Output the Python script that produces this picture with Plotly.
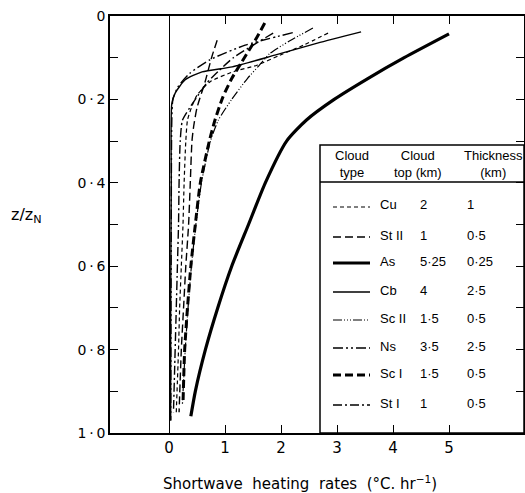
import plotly.graph_objects as go

# ---------------- data ----------------
cloud_types = ["Cu", "St II", "As", "Cb", "Sc II", "Ns", "Sc I", "St I"]
cloud_tops = ["2", "1", "5·25", "4", "1·5", "3·5", "1·5", "1"]
thicknesses = ["1", "0·5", "0·25", "2·5", "0·5", "2·5", "0·5", "0·5"]

cu_z = [0.041, 0.07, 0.094, 0.118, 0.134, 0.158, 0.19, 0.22, 0.25, 0.3, 0.4, 0.5, 0.6, 0.7, 0.8, 0.95]
cu_q = [2.84, 2.4, 1.98, 1.57, 1.14, 0.73, 0.5, 0.4, 0.33, 0.3, 0.27, 0.25, 0.22, 0.19, 0.17, 0.13]

st2_z = [0.058, 0.1, 0.16, 0.22, 0.265, 0.3, 0.4, 0.5, 0.6, 0.7, 0.8, 0.95]
st2_q = [0.86, 0.76, 0.64, 0.5, 0.44, 0.41, 0.38, 0.35, 0.3, 0.26, 0.22, 0.18]

as_z = [0.043, 0.1, 0.15, 0.2, 0.25, 0.3, 0.4, 0.5, 0.6, 0.7, 0.8, 0.9, 0.96]
as_q = [5.0, 4.2, 3.55, 2.95, 2.45, 2.1, 1.72, 1.42, 1.12, 0.87, 0.65, 0.47, 0.39]

cb_z = [0.038, 0.065, 0.094, 0.122, 0.134, 0.153, 0.185, 0.21, 0.4, 0.7, 0.97]
cb_q = [3.43, 2.65, 1.89, 1.13, 0.59, 0.29, 0.11, 0.05, 0.04, 0.03, 0.03]

sc2_z = [0.029, 0.06, 0.09, 0.12, 0.15, 0.2, 0.25, 0.3, 0.4, 0.5, 0.6, 0.7, 0.8, 0.93]
sc2_q = [2.57, 2.15, 1.8, 1.6, 1.4, 1.12, 0.88, 0.74, 0.58, 0.48, 0.4, 0.34, 0.29, 0.24]

ns_z = [0.04, 0.07, 0.105, 0.137, 0.17, 0.2, 0.25, 0.5, 0.97]
ns_q = [2.21, 1.36, 0.73, 0.375, 0.16, 0.07, 0.05, 0.04, 0.03]

sc1_z = [0.017, 0.058, 0.11, 0.15, 0.195, 0.25, 0.3, 0.4, 0.5, 0.6, 0.7, 0.8, 0.93]
sc1_q = [1.71, 1.54, 1.3, 1.12, 0.96, 0.82, 0.72, 0.56, 0.47, 0.39, 0.33, 0.28, 0.25]

st1_z = [0.041, 0.07, 0.1, 0.13, 0.16, 0.19, 0.22, 0.25, 0.3, 0.4, 0.5, 0.6, 0.7, 0.8, 0.95]
st1_q = [1.86, 1.5, 1.15, 0.9, 0.68, 0.52, 0.37, 0.24, 0.2, 0.18, 0.17, 0.15, 0.13, 0.11, 0.08]

x_ticks = [0, 1, 2, 3, 4, 5]
x_ticklabels = ["0", "1", "2", "3", "4", "5"]
y_ticks = [0, 0.2, 0.4, 0.6, 0.8, 1.0]
y_ticklabels = ["0", "0\u2009·\u20092", "0\u2009·\u20094", "0\u2009·\u20096", "0\u2009·\u20098", "1\u2009·\u20090"]

# ---------------- styles ----------------
styles = {
    "Cu":    dict(width=1.2, dash="4px,3px"),
    "St II": dict(width=1.4, dash="8px,4px"),
    "As":    dict(width=3.2, dash="solid"),
    "Cb":    dict(width=1.4, dash="solid"),
    "Sc II": dict(width=1.2, dash="9px,2px,1px,2px,1px,2px,1px,2px"),
    "Ns":    dict(width=1.4, dash="10px,3px,2px,3px,2px,3px"),
    "Sc I":  dict(width=3.0, dash="8px,4px"),
    "St I":  dict(width=1.4, dash="9px,3px,2px,3px"),
}
series = {
    "Cu": (cu_q, cu_z), "St II": (st2_q, st2_z), "As": (as_q, as_z),
    "Cb": (cb_q, cb_z), "Sc II": (sc2_q, sc2_z), "Ns": (ns_q, ns_z),
    "Sc I": (sc1_q, sc1_z), "St I": (st1_q, st1_z),
}

W, H = 525, 493
# plot-area edges in page pixels
PL, PR, PT, PB = 110, 524, 16, 433
FONT = "Liberation Sans, Arial, sans-serif"
FONT2 = "DejaVu Sans, sans-serif"

fig = go.Figure()
for name in cloud_types:
    q, z = series[name]
    fig.add_trace(go.Scatter(x=q, y=z, mode="lines", name=name, showlegend=False,
                             line=dict(color="black", shape="spline", smoothing=0.6,
                                       **styles[name])))

def px_x(px):
    return (px - PL) / (PR - PL)

def px_y(py):
    return (PB - py) / (PB - PT)

shapes = []
annotations = []
# legend table box
shapes.append(dict(type="rect", xref="paper", yref="paper",
                   x0=px_x(320), x1=px_x(PR), y0=px_y(PB), y1=px_y(145),
                   line=dict(color="black", width=1.5)))
shapes.append(dict(type="line", xref="paper", yref="paper",
                   x0=px_x(320), x1=px_x(PR), y0=px_y(182), y1=px_y(182),
                   line=dict(color="black", width=1.5)))

hdr = [("Cloud<br>type", 352), ("Cloud<br>top (km)", 418), ("Thickness<br>(km)", 493)]
for txt, cx in hdr:
    annotations.append(dict(xref="paper", yref="paper", x=px_x(cx), y=px_y(164),
                            text=txt, showarrow=False, xanchor="center", yanchor="middle",
                            font=dict(family=FONT, size=13, color="black")))

row_y = [207, 237, 263, 292, 320, 348, 375, 405]
for i, name in enumerate(cloud_types):
    py = row_y[i]
    st = styles[name]
    shapes.append(dict(type="line", xref="paper", yref="paper",
                       x0=px_x(333), x1=px_x(370), y0=px_y(py), y1=px_y(py),
                       line=dict(color="black", width=st["width"], dash=st["dash"])))
    for txt, lx in ((name, 378), (cloud_tops[i], 418), (thicknesses[i], 465)):
        annotations.append(dict(xref="paper", yref="paper", x=px_x(lx), y=px_y(py - 2),
                                text=txt, showarrow=False, xanchor="left", yanchor="middle",
                                font=dict(family=FONT, size=13, color="black")))

# axis titles
annotations.append(dict(xref="paper", yref="paper", x=px_x(300), y=px_y(483),
                        text="Shortwave  heating  rates  (°C. hr<sup>−1</sup>)",
                        showarrow=False, xanchor="center", yanchor="middle",
                        font=dict(family=FONT2, size=15, color="black")))
annotations.append(dict(xref="paper", yref="paper", x=px_x(9), y=px_y(215),
                        text="z/z<sub>N</sub>", showarrow=False, xanchor="left",
                        yanchor="middle", font=dict(family=FONT2, size=16, color="black")))

fig.update_layout(
    width=W, height=H,
    margin=dict(l=PL, r=W - PR, t=PT, b=H - PB, autoexpand=False),
    plot_bgcolor="white", paper_bgcolor="white",
    shapes=shapes, annotations=annotations,
    xaxis=dict(range=[(PL - 169) / 56, (PR - 169) / 56], tickvals=x_ticks, ticktext=x_ticklabels,
               ticks="inside", ticklen=8, tickwidth=1.3, tickcolor="black",
               showline=True, linecolor="black", linewidth=1.5, mirror="ticks",
               showgrid=False, zeroline=True, zerolinecolor="black", zerolinewidth=1,
               ticklabeloverflow="allow",
               tickfont=dict(family=FONT2, size=15, color="black")),
    yaxis=dict(range=[1.0, 0.0], tickvals=y_ticks, ticktext=y_ticklabels,
               ticks="inside", ticklen=8, tickwidth=1.3, tickcolor="black",
               minor=dict(ticks="inside", ticklen=8, tickwidth=1.3, tickcolor="black",
                          dtick=0.1, showgrid=False),
               showline=True, linecolor="black", linewidth=1.5, mirror="ticks",
               showgrid=False, zeroline=False, ticklabeloverflow="allow",
               tickfont=dict(family=FONT2, size=14, color="black")),
)

fig.write_html("out.html", config={"displayModeBar": False},
               post_script="document.body.style.margin='0px';document.body.style.overflow='hidden';")
